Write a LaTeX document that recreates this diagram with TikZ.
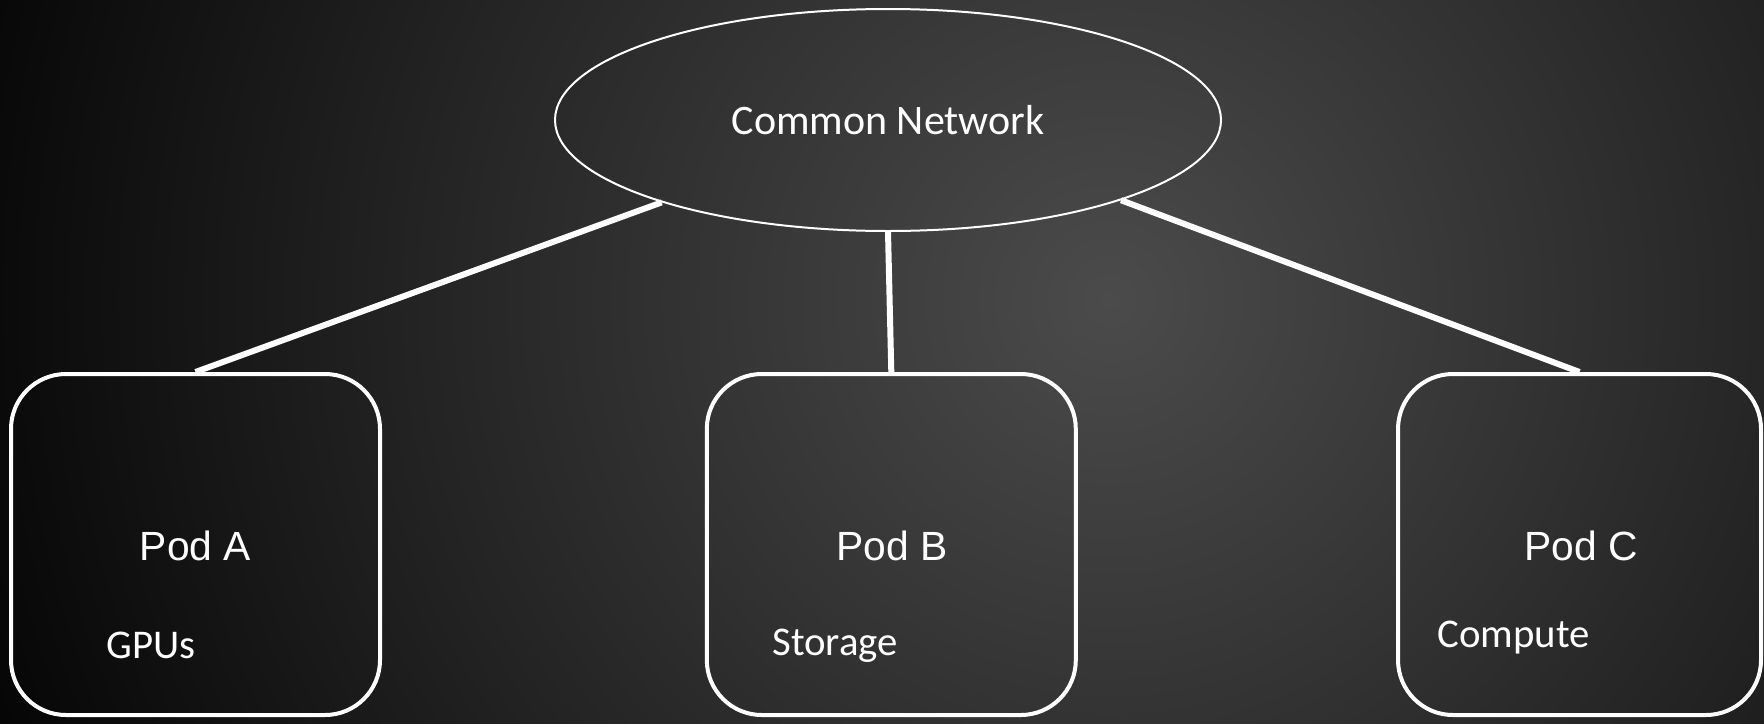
\documentclass[tikz,border=0pt]{standalone}
\usepackage{fontspec}
\setmainfont{Carlito}
\newfontfamily\podfont{Liberation Sans}
\usetikzlibrary{shapes.geometric}

\definecolor{glowA}{HTML}{4B4B4B}
\definecolor{glowB}{HTML}{3A3A3A}
\definecolor{glowC}{HTML}{232323}
\definecolor{glowD}{HTML}{050505}
\pgfdeclareradialshading{bgglow}{\pgfpointorigin}{%
  color(0bp)=(glowA); color(6.25bp)=(glowB); color(14.6bp)=(glowC);
  color(25bp)=(glowD); color(50bp)=(glowD)}

\tikzset{
  network/.style={ellipse, draw=white, line width=1pt, minimum width=333pt,
    minimum height=111pt, inner sep=0pt, text=white, font=\fontsize{21}{25}\selectfont},
  pod/.style={rectangle, rounded corners=27.5pt, draw=white, line width=2pt,
    minimum height=170.5pt, inner sep=0pt},
  podtitle/.style={anchor=base, inner sep=0pt, text=white,
    font=\podfont\fontsize{20.4}{24}\selectfont},
  podnote/.style={anchor=base west, inner sep=0pt, text=white,
    font=\fontsize{20.4}{24}\selectfont},
  link/.style={draw=white, line width=3pt}
}

\begin{document}
\begin{tikzpicture}[x=0.5pt, y=-0.5pt]
  \useasboundingbox (0,0) rectangle (1764,723);
  % dark backdrop with a soft glow right of centre
  \fill[black] (0,0) rectangle (1764,723);
  \begin{scope}
    \clip (0,0) rectangle (1764,723);
    \shade[shading=bgglow] (1110,300) circle (600pt);
  \end{scope}

  % nodes
  \node[network] (net) at (888,120) {Common Network};
  \node[pod, minimum width=184.5pt] (podA) at (195.5,544.5) {};
  \node[pod, minimum width=184.5pt] (podB) at (891.3,544.5) {};
  \node[pod, minimum width=181.5pt] (podC) at (1579.5,544.5) {};

  % labels inside the pods
  \node[podtitle] (tA) at (195.5,560) {Pod A};
  \node[podtitle] (tB) at (892,560) {Pod B};
  \node[podtitle] (tC) at (1581,560) {Pod C};
  \node[podnote] (nA) at (106,658) {GPUs};
  \node[podnote] (nB) at (772,655) {Storage};
  \node[podnote] (nC) at (1437,647) {Compute};

  % links from the network to each pod
  \draw[link] (net.200) -- (podA.north);
  \draw[link] (net.south) -- (podB.north);
  \draw[link] (net.341) -- (podC.north);
\end{tikzpicture}
\end{document}
